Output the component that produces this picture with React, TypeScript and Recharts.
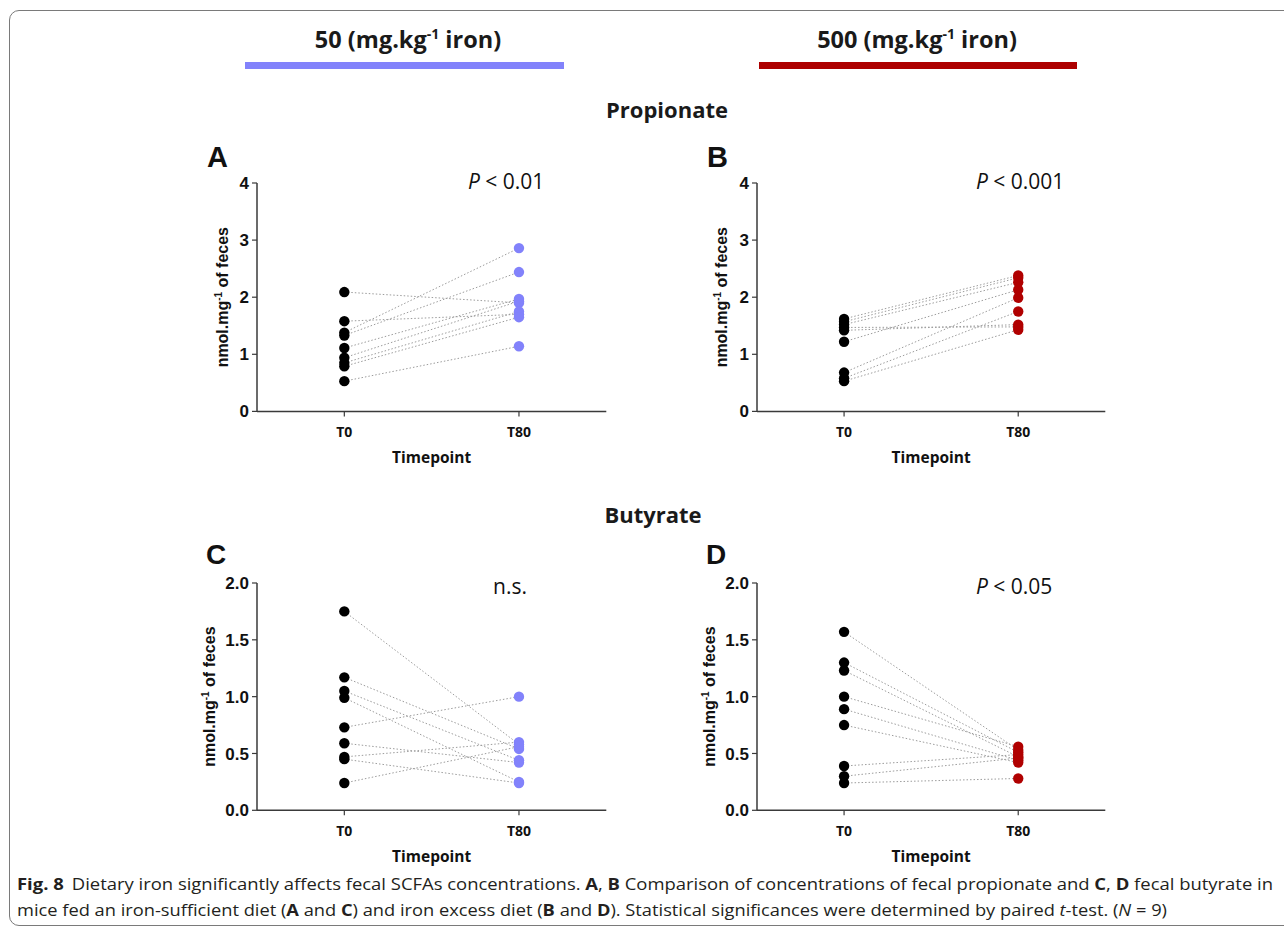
import React from 'react';
import { ScatterChart, Scatter, XAxis, YAxis } from 'recharts';

const timepoints = ['T0', 'T80'];
const propionateTicks = [0, 1, 2, 3, 4];
const butyrateTicks = [0, 0.5, 1, 1.5, 2];

const propionate50T0 = [2.09, 1.58, 1.38, 1.33, 1.11, 0.94, 0.85, 0.79, 0.53];
const propionate50T80 = [1.9, 1.7, 2.86, 2.44, 1.97, 1.93, 1.75, 1.65, 1.14];
const propionate500T0 = [1.62, 1.57, 1.52, 1.47, 1.42, 1.22, 0.68, 0.58, 0.53];
const propionate500T80 = [2.38, 2.34, 2.26, 1.48, 1.52, 2.13, 1.99, 1.75, 1.43];
const butyrate50T0 = [1.75, 1.17, 1.05, 0.99, 0.73, 0.59, 0.47, 0.45, 0.24];
const butyrate50T80 = [0.58, 0.54, 0.44, 0.25, 1.0, 0.42, 0.6, 0.24, 0.56];
const butyrate500T0 = [1.57, 1.3, 1.23, 1.0, 0.89, 0.75, 0.39, 0.3, 0.24];
const butyrate500T80 = [0.53, 0.51, 0.47, 0.56, 0.44, 0.42, 0.49, 0.46, 0.28];

const BLUE = '#8282fb';
const RED = '#b00000';
const AXIS = '#3a3a3a';

type PanelProps = {
  plotLeft: number;
  plotTop: number;
  plotW: number;
  plotH: number;
  t0: number[];
  t80: number[];
  color: string;
  ticks: number[];
  decimals: number;
  yLabelDx: number;
};

function Panel({ plotLeft, plotTop, plotW, plotH, t0, t80, color, ticks, decimals, yLabelDx }: PanelProps) {
  const ml = 5, mt = 15, mr = 10, mb = 5, yw = 60, xh = 60;
  const pairData = t0.map((v, i) => [
    { x: 0, y: v },
    { x: 1, y: t80[i] },
  ]);
  const t0Data = t0.map((v) => ({ x: 0, y: v }));
  const t80Data = t80.map((v) => ({ x: 1, y: v }));
  const px = ml + yw;
  const py = mt;
  const yLabel = () => {
    const xb = px + yLabelDx;
    const yc = py + plotH / 2;
    return (
      <text
        x={xb}
        y={yc}
        transform={`rotate(-90 ${xb} ${yc})`}
        textAnchor="middle"
        fontFamily="'Liberation Sans', Arial, sans-serif"
        fontWeight={700}
        fontSize={16}
        fill="#111"
      >
        nmol.mg
        <tspan dy={-6} fontSize={10}>-1</tspan>
        <tspan dy={6}> of feces</tspan>
      </text>
    );
  };
  const xLabel = () => (
    <text
      x={px + plotW / 2}
      y={py + plotH + 52}
      textAnchor="middle"
      fontFamily="'Open Sans', sans-serif"
      fontWeight={700}
      fontSize={15.5}
      fill="#111"
    >
      Timepoint
    </text>
  );
  return (
    <div style={{ position: 'absolute', left: plotLeft - px, top: plotTop - py }}>
      <ScatterChart
        width={plotW + ml + yw + mr}
        height={plotH + mt + xh + mb}
        margin={{ top: mt, right: mr, bottom: mb, left: ml }}
      >
        <XAxis
          type="number"
          dataKey="x"
          domain={[-0.5, 1.5]}
          ticks={[0, 1]}
          interval={0}
          tickFormatter={(v: number) => timepoints[v]}
          height={xh}
          axisLine={{ stroke: AXIS, strokeWidth: 1.5 }}
          tickLine={{ stroke: AXIS, strokeWidth: 1.2 }}
          tickSize={5}
          tickMargin={11}
          tick={{ fontFamily: "'Open Sans', sans-serif", fontWeight: 700, fontSize: 14, fill: '#111' }}
          label={{ content: xLabel }}
        />
        <YAxis
          type="number"
          dataKey="y"
          domain={[ticks[0], ticks[ticks.length - 1]]}
          ticks={ticks}
          interval={0}
          width={yw}
          tickFormatter={(v: number) => v.toFixed(decimals)}
          axisLine={{ stroke: AXIS, strokeWidth: 1.5 }}
          tickLine={{ stroke: AXIS, strokeWidth: 1.2 }}
          tickSize={5}
          tickMargin={3}
          tick={{ fontFamily: "'Liberation Sans', Arial, sans-serif", fontWeight: 700, fontSize: 17, fill: '#111' }}
          label={{ content: yLabel }}
        />
        {pairData.map((d, i) => (
          <Scatter
            key={i}
            data={d}
            line={{ stroke: '#9c9c9c', strokeWidth: 1, strokeDasharray: '1.5 2' }}
            shape={() => <g />}
            isAnimationActive={false}
          />
        ))}
        <Scatter
          data={t0Data}
          fill="#000"
          shape={(p: any) => <circle cx={p.cx} cy={p.cy} r={5.2} fill="#000" />}
          isAnimationActive={false}
        />
        <Scatter
          data={t80Data}
          fill={color}
          shape={(p: any) => <circle cx={p.cx} cy={p.cy} r={5.2} fill={color} />}
          isAnimationActive={false}
        />
      </ScatterChart>
    </div>
  );
}

const SANS = "'Open Sans', sans-serif";
const ARIAL = "'Liberation Sans', Arial, sans-serif";

export default function App() {
  return (
    <div
      style={{
        position: 'absolute',
        left: 0,
        top: 0,
        width: 1284,
        height: 931,
        overflow: 'hidden',
        background: '#fff',
      }}
    >
      <div
        style={{
          position: 'absolute',
          left: 9,
          top: 10,
          width: 1330,
          height: 914,
          border: '1.5px solid #7a7a7a',
          borderRadius: 10,
        }}
      />
      <Panel plotLeft={256.7} plotTop={183.3} plotW={349.3} plotH={228.4} t0={propionate50T0} t80={propionate50T80} color={BLUE} ticks={propionateTicks} decimals={0} yLabelDx={-28.5} />
      <Panel plotLeft={756.7} plotTop={183.3} plotW={348.3} plotH={228.4} t0={propionate500T0} t80={propionate500T80} color={RED} ticks={propionateTicks} decimals={0} yLabelDx={-29.5} />
      <Panel plotLeft={256.7} plotTop={582.7} plotW={349.3} plotH={227.3} t0={butyrate50T0} t80={butyrate50T80} color={BLUE} ticks={butyrateTicks} decimals={1} yLabelDx={-41.5} />
      <Panel plotLeft={756.7} plotTop={582.7} plotW={348.3} plotH={227.3} t0={butyrate500T0} t80={butyrate500T80} color={RED} ticks={butyrateTicks} decimals={1} yLabelDx={-41.5} />
      <svg
        width={1284}
        height={931}
        style={{ position: 'absolute', left: 0, top: 0, pointerEvents: 'none' }}
      >
        <text x={408} y={48} textAnchor="middle" fontFamily={SANS} fontWeight={700} fontSize={23.5} fill="#1a1a1a">
          50 (mg.kg<tspan dy={-9} fontSize={14}>-1</tspan><tspan dy={9}> iron)</tspan>
        </text>
        <rect x={245} y={62} width={319} height={7} fill={BLUE} />
        <text x={917} y={48} textAnchor="middle" fontFamily={SANS} fontWeight={700} fontSize={23.5} fill="#1a1a1a">
          500 (mg.kg<tspan dy={-9} fontSize={14}>-1</tspan><tspan dy={9}> iron)</tspan>
        </text>
        <rect x={759} y={62} width={318} height={7} fill="#ad0000" />

        <text x={667} y={118} textAnchor="middle" fontFamily={SANS} fontWeight={700} fontSize={22} fill="#1a1a1a">Propionate</text>
        <text x={653} y={523} textAnchor="middle" fontFamily={SANS} fontWeight={700} fontSize={22} fill="#1a1a1a">Butyrate</text>

        <text x={207} y={167} fontFamily={ARIAL} fontWeight={700} fontSize={29} fill="#111">A</text>
        <text x={707} y={167} fontFamily={ARIAL} fontWeight={700} fontSize={29} fill="#111">B</text>
        <text x={206} y={564} fontFamily={ARIAL} fontWeight={700} fontSize={28} fill="#111">C</text>
        <text x={706} y={564} fontFamily={ARIAL} fontWeight={700} fontSize={28} fill="#111">D</text>

        <text x={468} y={189} fontFamily={SANS} fontSize={21} fill="#111"><tspan fontStyle="italic">P</tspan> &lt; 0.01</text>
        <text x={976} y={189} fontFamily={SANS} fontSize={21} fill="#111"><tspan fontStyle="italic">P</tspan> &lt; 0.001</text>
        <text x={493} y={594} fontFamily={SANS} fontSize={21} fill="#111">n.s.</text>
        <text x={976} y={594} fontFamily={SANS} fontSize={21} fill="#111"><tspan fontStyle="italic">P</tspan> &lt; 0.05</text>

        <text x={17} y={890} fontFamily={SANS} fontSize={16} fill="#231f20" textLength={1256} lengthAdjust="spacingAndGlyphs">
          <tspan fontWeight={700}>Fig. 8</tspan>
          <tspan dx={7}>Dietary iron significantly affects fecal SCFAs concentrations. </tspan>
          <tspan fontWeight={700}>A</tspan>{', '}<tspan fontWeight={700}>B</tspan>
          {' Comparison of concentrations of fecal propionate and '}
          <tspan fontWeight={700}>C</tspan>{', '}<tspan fontWeight={700}>D</tspan>
          {' fecal butyrate in'}
        </text>
        <text x={17} y={916} fontFamily={SANS} fontSize={16} fill="#231f20" textLength={1150} lengthAdjust="spacingAndGlyphs">
          {'mice fed an iron-sufficient diet ('}
          <tspan fontWeight={700}>A</tspan>{' and '}<tspan fontWeight={700}>C</tspan>
          {') and iron excess diet ('}
          <tspan fontWeight={700}>B</tspan>{' and '}<tspan fontWeight={700}>D</tspan>
          {'). Statistical significances were determined by paired '}
          <tspan fontStyle="italic">t</tspan>
          {'-test. ('}
          <tspan fontStyle="italic">N</tspan>
          {' = 9)'}
        </text>
      </svg>
    </div>
  );
}
